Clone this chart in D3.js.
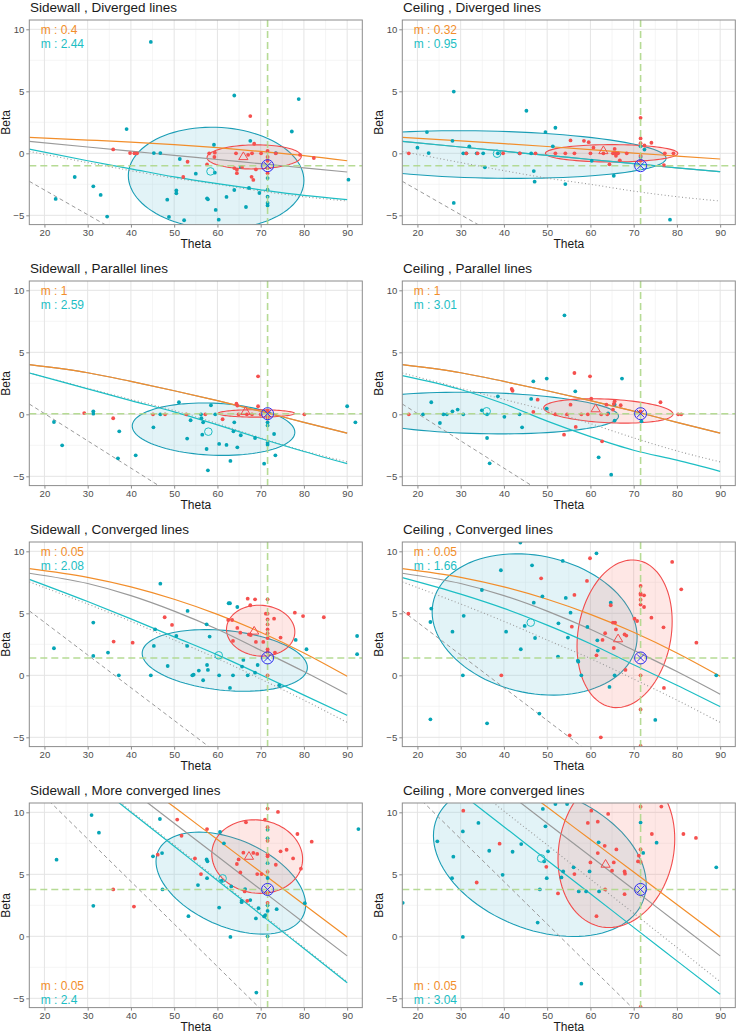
<!DOCTYPE html>
<html><head><meta charset="utf-8">
<script src="https://cdn.jsdelivr.net/npm/d3@7"></script>
<style>body{margin:0;background:#fff}svg{display:block}</style>
</head><body>
<svg id="c" width="737" height="1033"></svg>
<script>
// ---------- data ----------
const titles = ["Sidewall , Diverged lines","Ceiling , Diverged lines","Sidewall , Parallel lines","Ceiling , Parallel lines",
  "Sidewall , Converged lines","Ceiling , Converged lines","Sidewall , More converged lines","Ceiling , More converged lines"];
const mOrange = ["0.4","0.32","1","1","0.05","0.05","0.05","0.05"];
const mTeal = ["2.44","0.95","2.59","3.01","2.08","1.66","2.4","3.04"];
const legendBottom = [false,false,false,false,false,false,true,true];
const xTicks = [20,30,40,50,60,70,80,90];
const yTicks = [-5,0,5,10];
const targetX = 71.6;
const targetY = [-1,-1,0.05,0.05,1.4,1.4,3.78,3.78];

// line samples (theta values shared)
const lineX = [16.5,30,40,50,60,70,80,90];
const orangeY = [
  [1.28,1.07,0.9,0.7,0.45,0.15,-0.18,-0.6],
  [1.28,1.0,0.78,0.55,0.3,0.02,-0.22,-0.46],
  [4.0,3.35,2.65,1.9,1.1,0.25,-0.65,-1.52],
  [4.0,3.35,2.65,1.9,1.1,0.25,-0.65,-1.52],
  [8.6,7.9,7.13,6.13,4.91,3.47,1.8,-0.08],
  [8.6,7.9,7.13,6.13,4.91,3.47,1.8,-0.08],
  [19.18,15.65,13.03,10.42,7.8,5.18,2.57,-0.05],
  [19.18,15.65,13.03,10.42,7.8,5.18,2.57,-0.05]];
const grayY = [
  [0.96,0.51,0.17,-0.17,-0.5,-0.84,-1.17,-1.51],
  [0.96,0.51,0.17,-0.17,-0.5,-0.84,-1.17,-1.48],
  [4.0,3.35,2.65,1.9,1.1,0.25,-0.65,-1.52],
  [4.0,3.35,2.65,1.9,1.1,0.25,-0.65,-1.52],
  [8.23,7.4,6.43,5.18,3.71,2.02,0.3,-1.53],
  [8.23,7.4,6.43,5.18,3.71,2.02,0.3,-1.53],
  [18.09,14.48,11.8,9.12,6.45,3.77,1.1,-1.58],
  [18.09,14.48,11.8,9.12,6.45,3.77,1.1,-1.58]];
const tealY = [
  [0.34,-0.6,-1.25,-1.9,-2.45,-2.95,-3.4,-3.74],
  [0.96,0.51,0.17,-0.17,-0.5,-0.84,-1.17,-1.48],
  [3.33,2.05,1.1,0.2,-0.85,-1.95,-3.0,-3.98],
  [3.12,2.0,0.85,-0.55,-1.8,-2.9,-3.7,-4.6],
  [7.74,5.95,4.55,3.1,1.65,0.05,-1.6,-3.23],
  [7.88,6.55,5.4,4.05,2.55,0.85,-0.8,-2.53],
  [16.5,12.8,10.0,7.26,4.5,1.76,-0.99,-3.74],
  [15.19,11.54,8.84,6.13,3.43,0.72,-1.98,-4.68]];
const dottedY = [
  [0.15,-0.75,-1.4,-2.0,-2.5,-3.05,-3.5,-3.85],
  [0.15,-0.75,-1.4,-2.0,-2.5,-3.05,-3.5,-3.85],
  [3.33,2.1,1.2,0.3,-0.75,-1.9,-2.95,-3.84],
  [3.33,2.1,1.2,0.3,-0.75,-1.9,-2.95,-3.84],
  [7.53,5.75,4.35,2.85,1.35,-0.3,-2.0,-3.8],
  [7.53,5.75,4.35,2.85,1.35,-0.3,-2.0,-3.8],
  [16.6,12.9,10.1,7.37,4.61,1.86,-0.9,-3.66],
  [16.6,12.9,10.1,7.37,4.61,1.86,-0.9,-3.66]];
const dashedY = [
  [-2.26,-4.95,-6.94,-8.93,-10.9,-12.9,-14.9,-16.9],
  [-2.26,-4.95,-6.94,-8.93,-10.9,-12.9,-14.9,-16.9],
  [0.83,-2.14,-4.34,-6.54,-8.74,-10.9,-13.1,-15.3],
  [0.83,-2.14,-4.34,-6.54,-8.74,-10.9,-13.1,-15.3],
  [5.2,1.64,-1.0,-3.64,-6.28,-8.9,-11.5,-14.2],
  [5.2,1.64,-1.0,-3.64,-6.28,-8.9,-11.5,-14.2],
  [12.5,7.85,4.42,0.99,-2.44,-5.87,-9.3,-12.7],
  [12.5,7.85,4.42,0.99,-2.44,-5.87,-9.3,-12.7]];

// ellipses: [centre theta, centre beta, half-width, beta offset at x-extreme, half-height at centre]
const tealEllipse = [[59.7,-2.0,20.3,-0.2,4.1],[36,-0.1,41.5,-0.3,1.9],[59.1,-1.2,18.8,-0.25,2.1],[34.5,0.1,32,-0.25,1.66],
  [61.7,1.2,19.1,-0.57,2.42],[47.1,4.1,23.7,-1.01,5.61],[63.1,4.29,17.3,-1.75,3.72],[48.3,6.16,24.6,-1.95,5.86]];
const redEllipse = [[68.5,-0.29,10.9,0.05,0.97],[64.9,0.0,15.3,0.0,0.7],[69.0,0.07,8.85,0,0.3],[64.15,0.27,14.95,-0.25,0.95],
  [70.0,3.6,7.9,-0.1,2.05],[67.9,3.35,11,1.0,5.87],[69.2,6.43,10.5,-0.2,2.96],[66.0,7.04,13.5,0.81,6.28]];
const tealMean = [[58.4,-1.46],[38.4,-0.03],[57.9,-1.4],[36.0,0.24],[60.3,1.61],[46.2,4.25],[61.2,4.67],[48.6,6.28]];
const redMean = [[66.0,-0.25],[63.0,0.23],[66.5,0.25],[61.2,0.46],[68.5,3.58],[66.4,2.96],[67.3,6.47],[63.5,5.83]];

const p1Teal=[[44.6,8.98],[39.0,1.95],[63.9,4.66],[78.8,4.37],[77.2,1.76],[67.6,1.01],[59.2,0.69],[45.3,0.02],[46.8,0.02],[73.5,0.02],[51.3,-0.46],[27.0,-1.91],[55.0,-1.64],[59.4,-1.56],[31.3,-2.66],[33.0,-3.36],[22.6,-3.68],[34.5,-5.1],[48.4,-3.74],[50.5,-2.99],[50.5,-3.23],[57.6,-3.63],[57.8,-3.71],[62.1,-3.52],[63.9,-2.96],[59.6,-4.57],[66.6,-4.33],[60.3,-5.35],[52.3,-5.4],[48.8,-5.13],[67.3,-2.8],[69.7,-3.2],[90.3,-2.13],[65.4,-1.1],[71.6,-2.0],[71.6,-2.93],[71.6,-4.0],[71.6,-4.2],[71.6,-3.5]];
const p1Red=[[67.6,3.0],[35.9,0.31],[39.8,0.02],[40.8,0],[41.4,0],[53.1,-0.68],[52.1,-1.91],[57.6,-0.9],[58.1,0],[59.4,0.05],[59.3,-0.3],[64.3,0],[63.9,-1.19],[64.5,-1.32],[64.5,-1.6],[65.7,-1.1],[67.1,-0.12],[68.0,0],[68.5,0.77],[70.1,0],[68.9,-1.3],[67.9,-1.9],[68.3,-2.15],[71.6,0.2],[71.6,-0.3],[71.6,-0.6],[71.6,-1.2],[71.6,-1.6],[73.5,0],[79.1,-0.12],[82.3,-0.38]];
const p2Teal=[[28.4,4.98],[45.2,3.43],[51.9,2.06],[22.2,1.71],[49.6,1.71],[28.1,1.01],[20.0,0.45],[32.0,0.56],[22.6,0.02],[30.6,0],[31.3,0],[35.2,0],[33.7,0],[38.6,0],[43.6,0],[46.3,0],[51.3,0.56],[35.6,-1.13],[46.9,-1.43],[47.1,-2.29],[54.2,-2.48],[65.4,-1.81],[60.3,-0.6],[28.4,-4.0],[78.4,-5.35],[71.6,0.56],[72.5,0.3],[71.6,-0.3]];
const p2Red=[[18.0,0],[31.3,0],[33.9,0],[39.8,0],[43.7,0],[47.3,0],[51.9,0],[54.2,0],[56.3,0],[60.0,0],[63.0,0],[65.2,0],[65.8,0],[66.4,0],[65.9,-0.2],[68.4,0],[55.4,1.04],[58.5,1.01],[59.6,0.9],[60.7,0.45],[65.6,0.35],[66.8,-0.57],[64.4,-0.89],[71.6,2.86],[71.6,1.2],[71.6,0.82],[72.5,0.63],[74.1,0.85],[71.6,-0.2],[71.6,-0.6],[77.2,0],[79.2,0],[77.0,-0.95]];
const p3Teal=[[90,0.65],[91.9,-0.65],[22.2,-0.62],[24.1,-2.5],[31.3,0.24],[31.3,0.05],[37.3,-1.37],[37.0,-3.55],[41.1,-3.31],[45.2,-1.05],[46.8,0],[51.1,0.97],[53.0,-1.96],[53.8,-0.48],[56.2,0],[56.3,-0.32],[56.7,-0.65],[56.5,-1.64],[58.5,0.73],[57.5,-2.8],[57.8,-4.52],[59.5,0],[60.4,-2.39],[62.1,-2.47],[63.0,-3.76],[63.9,-0.65],[63.7,-1.37],[64.6,-2.66],[65.4,-1.69],[68.7,-1.91],[70.8,-3.98],[73.1,-1.59],[73.4,-3.31],[71.6,-0.65],[71.6,-0.9],[71.6,-2.3],[71.6,-2.45]];
const p3Red=[[29.2,0.1],[35.9,-0.32],[45.1,0],[47.9,0],[52.8,0],[57.2,0],[61.2,-0.4],[64.4,0.86],[64.6,0.7],[69.4,3.06],[69.4,0.65],[64.9,0],[66.8,0],[68.0,0],[70.0,0],[80.1,0],[71.6,0.3],[71.6,-0.2],[71.6,-0.35]];
const p4Teal=[[54.0,7.98],[23.2,0.97],[21.3,0],[25.2,-0.7],[26.0,0],[26.8,0],[28.1,0.24],[29.3,0.38],[30.6,0],[34.9,0.32],[36.1,0],[36.1,-1.91],[36.7,-3.95],[38.6,1.45],[40.1,-0.2],[43.6,0],[44.2,-1.05],[46.3,1.24],[46.8,2.66],[49.9,2.88],[49.9,0.46],[56.5,1.85],[61.9,-3.47],[64.1,0.08],[64.8,-4.87],[65.6,-0.51],[67.3,2.88],[71.8,-0.57],[65.6,0.78]];
const p4Red=[[18.0,0],[41.8,2.04],[42.0,1.9],[46.8,0.19],[47.8,1.18],[51.9,0],[54.6,0],[55.4,0.78],[56.3,3.33],[56.6,-1.02],[53.9,-1.64],[59.9,3.06],[60.2,1.26],[57.9,0],[59.4,0],[62.7,-2.18],[63.7,0.78],[65.4,0.84],[65.6,1.05],[65.2,0.38],[67.0,0.73],[76.2,0.97],[71.6,0.24],[80.3,0],[81.0,0],[62.5,0],[63.9,0]];
const p5Teal=[[46.8,7.39],[22.2,2.18],[31.3,4.25],[31.3,1.56],[34.7,1.83],[37.2,0],[44.6,0],[45.3,2.37],[45.6,3.71],[48.5,0.75],[50.5,3.17],[53.1,5.19],[53.0,2.37],[54.2,0],[54.5,0.05],[55.7,0.38],[56.7,-0.4],[57.5,4.11],[57.6,0.83],[57.8,0.43],[58.2,3.12],[60.4,0],[62.6,5.81],[62.9,5.81],[62.9,-1.02],[63.6,0],[64.6,5.51],[65.7,0.7],[66.0,1.24],[67.0,0],[68.7,0.21],[69.3,0.83],[74.3,-0.8],[78.1,2.85],[80.6,2.1],[92.3,3.17],[92.3,1.7]];
const p5Red=[[36.0,2.72],[40.4,2.63],[47.8,4.68],[49.5,4.06],[62.5,4.46],[63.4,4.46],[64.6,3.82],[65.3,3.44],[63.6,2.77],[67.0,6.18],[68.7,6.13],[67.6,5.65],[67.3,3.3],[67.7,3.25],[68.9,2.69],[70.6,2.69],[71.2,4.97],[71.6,4.97],[71.6,6.13],[71.6,4.5],[71.6,4.1],[71.6,3.7],[71.6,3.4],[71.6,3.0],[71.6,2.1],[71.6,1.9],[71.6,0],[73.1,4.57],[74.6,3.04],[73.3,1.83],[77.9,5.05],[79.8,4.78],[84.6,4.68]];
const p6Teal=[[43.8,10.7],[61.4,9.84],[23.2,5.38],[23.0,4.3],[30.7,4.8],[28.1,3.52],[34.9,6.88],[39.3,8.47],[40.5,3.52],[46.5,8.87],[48.9,6.37],[46.9,5.86],[47.2,3.01],[44.8,3.98],[43.9,2.1],[53.6,9.22],[54.3,6.24],[55.4,5.05],[54.8,3.04],[52.6,4.19],[52.5,1.51],[59.3,3.9],[57.1,1.18],[57.2,1.1],[57.9,0],[61.6,2.82],[61.7,1.99],[64.7,5.86],[64.4,-0.94],[65.6,0],[30.5,0],[23.0,-3.55],[36.1,-3.87],[48.2,-3.09],[75.0,-3.6],[89.1,0]];
const p6Red=[[17.9,4.97],[39.4,0],[48.6,7.82],[59.9,9.44],[59.2,7.61],[56.3,6.48],[55.7,3.92],[64.7,5.65],[65.2,4.25],[65.7,4.25],[65.9,3.7],[63.4,3.39],[62.8,2.85],[61.4,1.61],[65.4,2.2],[67.9,3.3],[68.3,3.2],[70.2,4.57],[70.8,4.38],[71.6,7.2],[71.6,6.6],[71.6,6.5],[71.6,6.1],[71.6,5.7],[71.6,0],[71.6,-2.75],[71.6,-5.7],[72.4,6.45],[72.4,5.51],[74.1,4.65],[76.9,3.87],[78.9,9.14],[81.0,6.93],[84.5,2.63],[77.0,-1.02],[68.1,0.43],[55.2,-4.84],[62.4,-5.0]];
const p7Teal=[[30.9,9.78],[32.6,8.36],[22.8,6.18],[31.3,2.46],[46.7,9.46],[45.1,6.45],[47.2,6.71],[47.3,3.78],[53.3,1.62],[55.5,4.13],[57.5,6.2],[57.7,6.05],[57.6,4.69],[60.6,8.41],[61.5,7.5],[61.0,4.48],[60.4,2.32],[63.2,4.02],[63.0,-0.05],[65.6,2.86],[65.6,2.75],[66.4,3.81],[67.6,2.92],[68.9,1.44],[69.5,2.27],[70.8,1.6],[71.1,1.7],[71.6,2.05],[71.6,8.6],[71.6,7.9],[71.6,5.9],[71.6,4.7],[71.6,2.5],[71.6,0],[73.7,2.19],[69.0,-4.54],[92.6,8.65],[80.2,2.67]];
const p7Red=[[35.9,3.78],[40.7,2.4],[46.2,6.58],[50.7,9.41],[51.7,8.11],[54.8,6.28],[56.2,5.02],[57.6,8.65],[64.5,5.83],[64.9,6.2],[65.3,5.15],[66.0,6.74],[66.6,9.19],[66.9,2.86],[66.3,3.62],[68.3,6.72],[69.2,6.64],[69.2,5.02],[70.2,5.02],[71.0,9.41],[71.6,10.3],[71.6,8.8],[71.6,7.7],[71.6,6.6],[71.6,6.45],[71.6,5.2],[71.6,3.5],[71.6,2.7],[74.0,10.03],[74.6,6.85],[73.5,5.77],[76.0,6.98],[77.5,6.28],[78.5,8.25],[79.3,5.45],[81.8,7.63]];
const p8Teal=[[24.6,7.66],[28.3,6.42],[28.0,4.69],[30.5,8.46],[30.5,-0.05],[34.1,9.14],[36.6,6.9],[39.7,4.96],[42.0,6.82],[44.0,7.44],[49.0,10.27],[49.6,8.87],[49.3,6.04],[49.9,4.69],[47.8,1.11],[48.3,3.78],[51.9,10.67],[54.6,10.67],[50.2,6.85],[53.3,4.75],[53.7,5.23],[56.1,5.56],[57.3,3.62],[59.0,3.62],[59.8,5.23],[62.0,3.62],[61.9,7.58],[57.9,-3.82],[71.6,9.17],[72.2,6.72],[75.3,7.55],[89.1,5.56],[16.6,2.7]];
const p8Red=[[30.6,10.13],[33.7,4.34],[39.0,7.47],[49.8,5.6],[56.3,5.02],[52.5,3.46],[59.4,9.14],[60.2,10.13],[61.7,9.24],[61.7,6.71],[60.0,5.96],[64.1,9.87],[63.3,7.3],[66.0,7.01],[65.4,5.96],[65.0,5.29],[67.9,5.23],[68.0,5.05],[67.9,3.4],[63.4,3.78],[61.4,1.62],[71.0,6.04],[71.2,6.5],[71.6,10.45],[71.6,7.0],[71.6,6.0],[71.6,-5.7],[74.2,8.25],[76.4,10.46],[81.5,8.25],[84.4,7.93]];
const tealPoints=[p1Teal,p2Teal,p3Teal,p4Teal,p5Teal,p6Teal,p7Teal,p8Teal];
const redPoints=[p1Red,p2Red,p3Red,p4Red,p5Red,p6Red,p7Red,p8Red];

// ---------- layout ----------
const colX0 = [29.3, 402.3], plotW = 333;
const rowY0 = [20, 281, 542, 803], plotH = 204.6;
const FONT = "'Liberation Sans', Arial, sans-serif";
const C = {orange:"#F28E2B", teal:"#1DBEC4", tealPt:"#06A5B6", tealEll:"#1A9DB5", red:"#F24C4C", redPt:"#F5504E",
  gray:"#9A9A9A", green:"#AFD88A", blue:"#3030F0"};

const svg = d3.select("#c");
const defs = svg.append("defs");

for (let i = 0; i < 8; i++) {
  const col = i % 2, row = Math.floor(i / 2);
  const x0 = colX0[col], y0 = rowY0[row];
  const x = d3.scaleLinear().domain([16.5, 93.5]).range([x0, x0 + plotW]);
  const y = d3.scaleLinear().domain([-5.75, 10.75]).range([y0 + plotH, y0]);
  const g = svg.append("g");
  defs.append("clipPath").attr("id", "clip" + i).append("rect")
    .attr("x", x0).attr("y", y0).attr("width", plotW).attr("height", plotH);

  // grid
  const minorX = d3.range(25, 95, 10), minorY = [-2.5, 2.5, 7.5];
  g.selectAll(null).data(minorX).enter().append("line")
    .attr("x1", d => x(d)).attr("x2", d => x(d)).attr("y1", y0).attr("y2", y0 + plotH)
    .attr("stroke", "#EFEFEF").attr("stroke-width", 0.6);
  g.selectAll(null).data(minorY).enter().append("line")
    .attr("y1", d => y(d)).attr("y2", d => y(d)).attr("x1", x0).attr("x2", x0 + plotW)
    .attr("stroke", "#EFEFEF").attr("stroke-width", 0.6);
  g.selectAll(null).data(xTicks).enter().append("line")
    .attr("x1", d => x(d)).attr("x2", d => x(d)).attr("y1", y0).attr("y2", y0 + plotH)
    .attr("stroke", "#E4E4E4").attr("stroke-width", 1);
  g.selectAll(null).data(yTicks).enter().append("line")
    .attr("y1", d => y(d)).attr("y2", d => y(d)).attr("x1", x0).attr("x2", x0 + plotW)
    .attr("stroke", "#E4E4E4").attr("stroke-width", 1);

  const pg = g.append("g").attr("clip-path", `url(#clip${i})`);

  // ellipses
  const ellPath = e => {
    const pts = d3.range(0, 101).map(k => {
      const t = k / 100 * 2 * Math.PI;
      return [x(e[0] + e[2] * Math.cos(t)), y(e[1] + e[3] * Math.cos(t) + e[4] * Math.sin(t))];
    });
    return d3.line()(pts) + "Z";
  };
  pg.append("path").attr("d", ellPath(tealEllipse[i]))
    .attr("fill", "rgba(140,208,224,0.25)").attr("stroke", C.tealEll).attr("stroke-width", 1.1);
  pg.append("path").attr("d", ellPath(redEllipse[i]))
    .attr("fill", "rgba(248,110,100,0.17)").attr("stroke", C.red).attr("stroke-width", 1.1);

  // lines
  const ln = d3.line().x(d => x(d[0])).y(d => y(d[1])).curve(d3.curveMonotoneX);
  const mk = arr => lineX.map((v, k) => [v, arr[k]]);
  pg.append("path").attr("d", ln(mk(dashedY[i]))).attr("fill", "none")
    .attr("stroke", C.gray).attr("stroke-width", 1).attr("stroke-dasharray", "4,3");
  pg.append("path").attr("d", ln(mk(dottedY[i]))).attr("fill", "none")
    .attr("stroke", C.gray).attr("stroke-width", 1.1).attr("stroke-dasharray", "1,2.5");
  pg.append("path").attr("d", ln(mk(grayY[i]))).attr("fill", "none")
    .attr("stroke", C.gray).attr("stroke-width", 1.2);
  pg.append("path").attr("d", ln(mk(tealY[i]))).attr("fill", "none")
    .attr("stroke", C.teal).attr("stroke-width", 1.2);
  pg.append("path").attr("d", ln(mk(orangeY[i]))).attr("fill", "none")
    .attr("stroke", C.orange).attr("stroke-width", 1.2);

  // points
  pg.selectAll(null).data(tealPoints[i]).enter().append("circle")
    .attr("cx", d => x(d[0])).attr("cy", d => y(d[1])).attr("r", 1.9).attr("fill", C.tealPt);
  pg.selectAll(null).data(redPoints[i]).enter().append("circle")
    .attr("cx", d => x(d[0])).attr("cy", d => y(d[1])).attr("r", 1.9).attr("fill", C.redPt);

  // target dashed lines
  pg.append("line").attr("x1", x(targetX)).attr("x2", x(targetX)).attr("y1", y0).attr("y2", y0 + plotH)
    .attr("stroke", C.green).attr("stroke-width", 1.6).attr("stroke-dasharray", "7,4").attr("opacity", 0.9);
  pg.append("line").attr("y1", y(targetY[i])).attr("y2", y(targetY[i])).attr("x1", x0).attr("x2", x0 + plotW)
    .attr("stroke", C.green).attr("stroke-width", 1.6).attr("stroke-dasharray", "7,4").attr("opacity", 0.9);

  // means
  pg.append("circle").attr("cx", x(tealMean[i][0])).attr("cy", y(tealMean[i][1])).attr("r", 3.8)
    .attr("fill", "none").attr("stroke", C.teal).attr("stroke-width", 1);
  const tx = x(redMean[i][0]), ty = y(redMean[i][1]);
  pg.append("path").attr("d", `M${tx},${ty - 4.5}L${tx + 4.6},${ty + 3.2}L${tx - 4.6},${ty + 3.2}Z`)
    .attr("fill", "none").attr("stroke", C.red).attr("stroke-width", 1);

  // target marker
  const bx = x(targetX), by = y(targetY[i]);
  pg.append("circle").attr("cx", bx).attr("cy", by).attr("r", 6).attr("fill", "none").attr("stroke", C.blue).attr("stroke-width", 1);
  pg.append("path").attr("d", `M${bx - 3.6},${by - 3.6}L${bx + 3.6},${by + 3.6}M${bx - 3.6},${by + 3.6}L${bx + 3.6},${by - 3.6}`)
    .attr("stroke", C.blue).attr("stroke-width", 1);

  // border
  g.append("rect").attr("x", x0).attr("y", y0).attr("width", plotW).attr("height", plotH)
    .attr("fill", "none").attr("stroke", "#8C8C8C").attr("stroke-width", 1);

  // axes
  const xa = g.append("g").attr("transform", `translate(0,${y0 + plotH})`)
    .call(d3.axisBottom(x).tickValues(xTicks).tickSize(3).tickPadding(2));
  const ya = g.append("g").attr("transform", `translate(${x0},0)`)
    .call(d3.axisLeft(y).tickValues(yTicks).tickSize(3).tickPadding(2));
  [xa, ya].forEach(a => {
    a.select(".domain").remove();
    a.selectAll(".tick line").attr("stroke", "#8C8C8C");
    a.selectAll(".tick text").attr("fill", "#4D4D4D").attr("font-size", 9.6).attr("font-family", FONT);
  });

  const tg = svg.append("g").attr("font-family", FONT).attr("text-anchor", "start");
  tg.append("text").attr("x", x0 + plotW / 2).attr("y", y0 + plotH + 23.7).attr("text-anchor", "middle")
    .attr("font-size", 12).attr("fill", "#1A1A1A").text("Theta");
  tg.append("text").attr("transform", `translate(${x0 - 19.5},${y0 + plotH / 2}) rotate(-90)`).attr("text-anchor", "middle")
    .attr("font-size", 12).attr("fill", "#1A1A1A").text("Beta");
  tg.append("text").attr("x", x0 + 0.7).attr("y", y0 - 8.3)
    .attr("font-size", 13.5).attr("fill", "#1A1A1A").text(titles[i]);

  // legend text: two lines kept clear of each other
  const fs = 12, gap = 13.5;
  const ly1 = legendBottom[i] ? y0 + plotH - 17.3 : y0 + 14.2;
  tg.append("text").attr("x", x0 + 11.4).attr("y", ly1).attr("font-size", fs)
    .attr("fill", C.orange).text("m : " + mOrange[i]);
  tg.append("text").attr("x", x0 + 11.4).attr("y", ly1 + gap).attr("font-size", fs)
    .attr("fill", C.teal).text("m : " + mTeal[i]);
}
</script>
</body></html>
